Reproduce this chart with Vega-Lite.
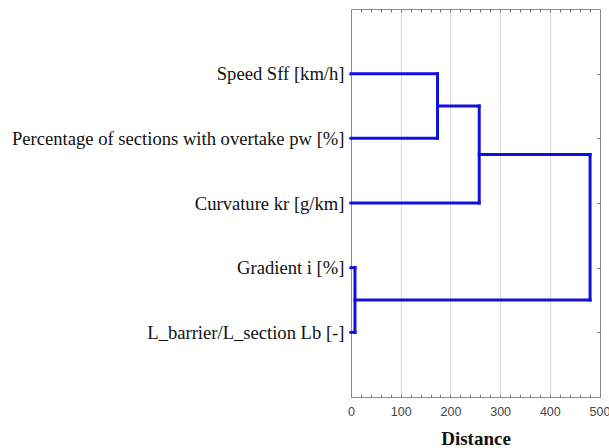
{
  "$schema": "https://vega.github.io/schema/vega-lite/v6.json",
  "width": 249,
  "height": 388,
  "autosize": "none",
  "padding": {"left": 351, "top": 9, "right": 9, "bottom": 51},
  "background": "white",
  "config": {"view": {"stroke": "#8a8a8a", "strokeWidth": 1}},
  "data": {"values": [
    {"x": 0, "x2": 174, "y": 1, "y2": 1},
    {"x": 0, "x2": 174, "y": 2, "y2": 2},
    {"x": 174, "x2": 174, "y": 1, "y2": 2},
    {"x": 174, "x2": 258, "y": 1.5, "y2": 1.5},
    {"x": 0, "x2": 258, "y": 3, "y2": 3},
    {"x": 258, "x2": 258, "y": 1.5, "y2": 3},
    {"x": 258, "x2": 481, "y": 2.25, "y2": 2.25},
    {"x": 0, "x2": 8, "y": 4, "y2": 4},
    {"x": 0, "x2": 8, "y": 5, "y2": 5},
    {"x": 8, "x2": 8, "y": 4, "y2": 5},
    {"x": 8, "x2": 481, "y": 4.5, "y2": 4.5},
    {"x": 481, "x2": 481, "y": 2.25, "y2": 4.5}
  ]},
  "resolve": {"axis": {"x": "independent", "y": "independent"}},
  "layer": [
    {
      "mark": {"type": "rule", "color": "#1010dc", "strokeWidth": 3, "strokeCap": "square"},
      "encoding": {
        "x": {
          "field": "x", "type": "quantitative",
          "scale": {"domain": [0, 501], "nice": false, "zero": false},
          "axis": {
            "orient": "bottom",
            "values": [0, 20, 40, 60, 80, 100, 120, 140, 160, 180, 200, 220, 240, 260, 280, 300, 320, 340, 360, 380, 400, 420, 440, 460, 480, 500],
            "labelExpr": "datum.value % 100 === 0 ? datum.label : ''",
            "grid": true,
            "gridColor": "#d9d9d9",
            "gridOpacity": {"condition": {"test": "datum.value % 100 === 0 && datum.value > 0 && datum.value < 500", "value": 1}, "value": 0},
            "tickSize": -3,
            "tickColor": "#777",
            "domain": false,
            "labelFont": "Liberation Sans",
            "labelFontSize": 12.5,
            "labelColor": "#444",
            "labelPadding": 11,
            "labelFlush": false,
            "title": "Distance",
            "titleFont": "Liberation Serif",
            "titleFontSize": 19,
            "titleFontWeight": "bold",
            "titleColor": "#111",
            "titlePadding": 12
          }
        },
        "x2": {"field": "x2"},
        "y": {
          "field": "y", "type": "quantitative",
          "scale": {"domain": [0, 6], "nice": false, "zero": false, "reverse": true},
          "axis": {
            "orient": "left",
            "values": [1, 2, 3, 4, 5],
            "labelExpr": "datum.value === 1 ? 'Speed Sff [km/h]' : datum.value === 2 ? 'Percentage of sections with overtake pw [%]' : datum.value === 3 ? 'Curvature kr [g/km]' : datum.value === 4 ? 'Gradient i [%]' : 'L_barrier/L_section Lb [-]'",
            "grid": false,
            "tickSize": 3,
            "tickColor": "#999",
            "domain": false,
            "labelFont": "Liberation Serif",
            "labelFontSize": 18.6,
            "labelColor": "#111",
            "labelPadding": 4,
            "labelLimit": 400,
            "title": null
          }
        },
        "y2": {"field": "y2"}
      }
    },
    {
      "mark": {"type": "rule", "opacity": 0},
      "encoding": {
        "x": {
          "field": "x", "type": "quantitative",
          "axis": {
            "orient": "top",
            "values": [20, 40, 60, 80, 100, 120, 140, 160, 180, 200, 220, 240, 260, 280, 300, 320, 340, 360, 380, 400, 420, 440, 460, 480],
            "labels": false,
            "grid": false,
            "tickSize": -3,
            "tickColor": "#777",
            "domain": false,
            "title": null
          }
        },
        "x2": {"field": "x2"},
        "y": {
          "field": "y", "type": "quantitative",
          "axis": {
            "orient": "right",
            "values": [1, 2, 3, 4, 5],
            "labels": false,
            "grid": false,
            "tickSize": -3,
            "tickColor": "#777",
            "domain": false,
            "title": null
          }
        },
        "y2": {"field": "y2"}
      }
    }
  ]
}
